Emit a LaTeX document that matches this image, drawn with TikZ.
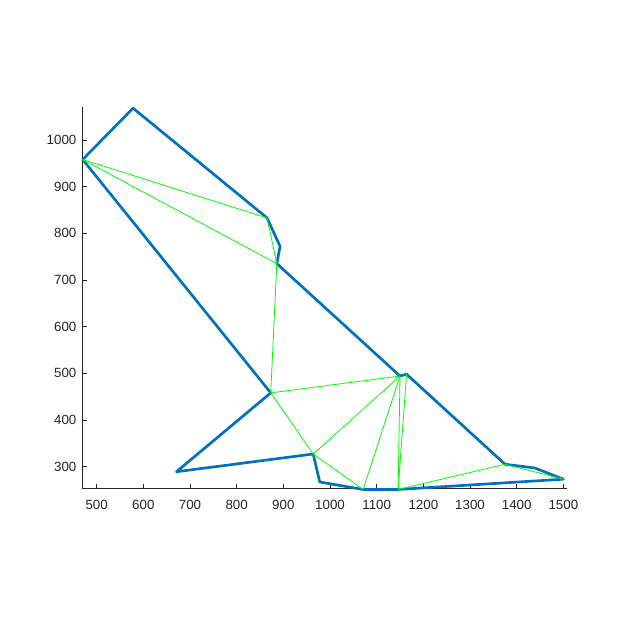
\documentclass[tikz,border=0pt]{standalone}
\usepackage{fontspec}
\setmainfont{Liberation Sans}
\definecolor{mblue}{RGB}{0,114,189}
\definecolor{mgreen}{RGB}{0,255,0}
\definecolor{axgray}{RGB}{38,38,38}
\tikzset{
  outline/.style={draw=mblue, line width=2pt, line join=round},
  tri/.style={draw=mgreen, line width=0.6pt},
  axisline/.style={draw=axgray, line width=0.6pt},
  ticklab/.style={font=\fontsize{10}{12}\selectfont, text=axgray, inner sep=0pt}
}
\begin{document}
\begin{tikzpicture}
\useasboundingbox (0,0) rectangle (471pt,463.5pt);
\fill[white] (0,0) rectangle (471pt,463.5pt);
\begin{scope}[shift={(-102.5pt,8.55pt)}, x=0.35pt, y=0.35pt]
  % axes
  \coordinate (o) at (470,253);
  \coordinate (xe) at (1508,253);
  \coordinate (ye) at (470,1070);
  \draw[axisline] (ye) -- (o) -- (xe);
  \foreach \v in {500,600,...,1500} {
    \draw[axisline] (\v,253) -- (\v,262);
    \node[ticklab, anchor=north] (xl\v) at (\v,229) {\v};
  }
  \foreach \v in {300,400,...,1000} {
    \draw[axisline] (470,\v) -- (479,\v);
    \node[ticklab, anchor=east] (yl\v) at (457,\v) {\v};
  }
  % vertices
  \coordinate (A) at (578,1068);
  \coordinate (B) at (470,958);
  \coordinate (C) at (865,833);
  \coordinate (D) at (893,772);
  \coordinate (E) at (886,735);
  \coordinate (F) at (1150,494);
  \coordinate (G) at (1164,498);
  \coordinate (H) at (1375,305);
  \coordinate (I) at (1439,297);
  \coordinate (J) at (1500,273);
  \coordinate (K) at (1146,251);
  \coordinate (L) at (1071,251);
  \coordinate (M) at (978,267);
  \coordinate (N) at (964,327);
  \coordinate (O) at (671,289);
  \coordinate (P) at (873,458);
  % outline
  \draw[outline] (A) -- (C) -- (D) -- (E) -- (F) -- (G) -- (H) -- (I) -- (J)
     -- (K) -- (L) -- (M) -- (N) -- (O) -- (P) -- (B) -- cycle;
  % triangulation
  \draw[tri] (B) -- (C);
  \draw[tri] (B) -- (E);
  \draw[tri] (C) -- (E);
  \draw[tri] (E) -- (P);
  \draw[tri] (P) -- (F);
  \draw[tri] (P) -- (N);
  \draw[tri] (N) -- (F);
  \draw[tri] (N) -- (L);
  \draw[tri] (L) -- (F);
  \draw[tri] (K) -- (F);
  \draw[tri] (K) -- (G);
  \draw[tri] (K) -- (H);
  \draw[tri] (H) -- (J);
\end{scope}
\end{tikzpicture}
\end{document}
